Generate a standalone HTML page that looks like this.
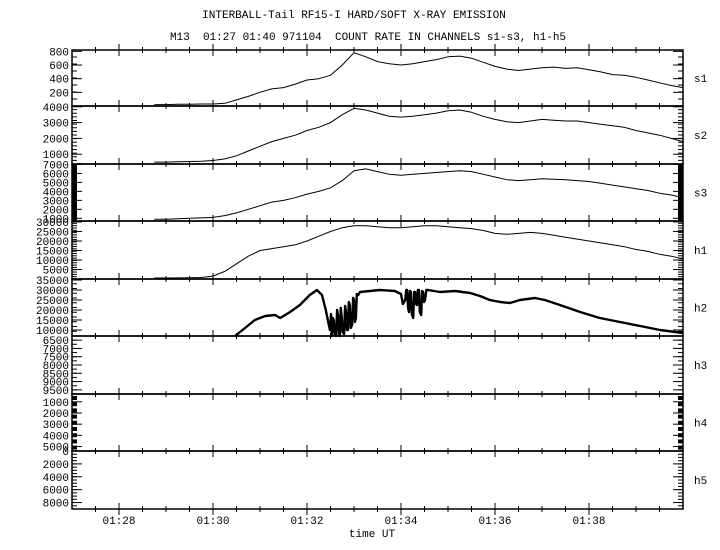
<!DOCTYPE html>
<html><head><meta charset="utf-8"><style>
html,body{margin:0;padding:0;background:#fff;}
svg{display:block;font-family:"Liberation Mono",monospace;}
</style></head><body>
<svg id="chart" width="720" height="550" viewBox="0 0 720 550" xmlns="http://www.w3.org/2000/svg">
<rect width="720" height="550" fill="#fff"/>
<text x="354" y="18" font-size="11" text-anchor="middle">INTERBALL-Tail RF15-I HARD/SOFT X-RAY EMISSION</text>
<text x="368" y="40" font-size="11" text-anchor="middle" style="white-space:pre">M13  01:27 01:40 971104  COUNT RATE IN CHANNELS s1-s3, h1-h5</text>
<text x="372" y="537" font-size="11" text-anchor="middle">time UT</text>
<g id="g"></g>
</svg>
<script>
// shared time axis (minutes after 01:27)
const times = [1.75,2,2.25,2.5,2.75,3,3.25,3.5,3.75,4,4.25,4.5,4.75,5,5.25,5.5,5.75,6,6.25,6.5,6.75,7,7.25,7.5,7.75,8,8.25,8.5,8.75,9,9.25,9.5,9.75,10,10.25,10.5,10.75,11,11.25,11.5,11.75,12,12.25,12.5,12.75,13];
const s1Values = [20,20,25,25,30,30,40,90,140,200,250,270,320,380,400,450,600,780,720,650,620,600,620,650,680,720,730,700,640,580,540,520,540,560,570,550,560,530,500,460,450,420,380,340,300,270];
const s2Values = [500,500,520,540,560,600,700,900,1200,1500,1800,2000,2200,2500,2700,3000,3500,3900,3800,3600,3400,3350,3400,3500,3600,3750,3800,3650,3400,3200,3050,3000,3100,3200,3150,3100,3100,3000,2900,2800,2700,2500,2350,2200,2000,1800];
const s3Values = [900,900,950,1000,1050,1100,1300,1600,2000,2400,2800,3000,3300,3700,4000,4400,5200,6300,6500,6200,5900,5800,5900,6000,6100,6200,6300,6200,5900,5600,5300,5200,5300,5400,5350,5300,5200,5100,4900,4700,4500,4300,4100,3800,3600,3300];
const h1Values = [500,500,600,700,800,1500,4000,8000,12000,15000,16000,17000,18000,20000,22500,25000,27000,28000,28000,27500,27000,27000,27500,28000,28000,27500,27000,26500,25500,24000,23500,24000,24500,24000,23000,22000,21000,20000,19000,18000,17000,15500,14500,13000,12000,10500];
const h2Times = [3.47,3.68,3.89,4.11,4.32,4.43,4.64,4.85,5.06,5.21,5.32,5.40,5.45,5.49,5.51,5.53,5.55,5.57,5.59,5.62,5.64,5.66,5.68,5.70,5.72,5.74,5.76,5.79,5.81,5.83,5.85,5.87,5.89,5.91,5.93,5.96,5.98,6.00,6.02,6.04,6.06,6.09,6.13,6.34,6.55,6.87,7.0,7.04,7.09,7.11,7.13,7.15,7.17,7.19,7.21,7.23,7.26,7.28,7.30,7.32,7.34,7.36,7.38,7.40,7.43,7.45,7.47,7.49,7.51,7.54,7.57,7.83,8.15,8.47,8.68,8.89,9.11,9.32,9.53,9.85,10.06,10.38,10.81,11.23,11.66,12.09,12.51,13.0];
const h2Values = [7000,11000,15000,17000,17500,16000,19000,22500,27500,30000,27500,20000,14000,10000,18000,7000,16000,15000,8000,7000,20000,17500,8000,7000,21000,16000,9000,8000,22000,19000,10000,10000,24000,22500,11000,12500,26000,25000,14000,16000,28000,27500,29000,29500,30000,29500,28000,23000,25000,30000,30000,21000,19000,29500,29000,18000,16000,29000,29000,23000,22500,30000,30000,19000,17500,29500,29000,24000,25000,30000,30000,29000,29500,28500,27000,25000,24000,23500,25000,26000,25000,22500,19000,16000,14000,12000,10000,8500];
const xTickLabels = ["01:28","01:30","01:32","01:34","01:36","01:38"];
const xTickMinutes = [1,3,5,7,9,11];
const s1Ticks = [800,600,400,200];
const s2Ticks = [4000,3000,2000,1000];
const s3Ticks = [7000,6000,5000,4000,3000,2000,1000];
const h1Ticks = [30000,25000,20000,15000,10000,5000];
const h2Ticks = [35000,30000,25000,20000,15000,10000];
const h3Ticks = [6500,7000,7500,8000,8500,9000,9500];
const h4Ticks = [1000,2000,3000,4000,5000];
const h5Ticks = [0,2000,4000,6000,8000];

const NS="http://www.w3.org/2000/svg";
const G=document.getElementById('g');
const X0=72,X1=683;
const xs=m=>X0+m*(X1-X0)/13;
function el(tag,attrs,parent){const e=document.createElementNS(NS,tag);for(const k in attrs)e.setAttribute(k,attrs[k]);(parent||G).appendChild(e);return e;}

const panels=[
 {name:'s1',top:50,bot:106,lo:0,hi:820,ticks:s1Ticks,data:s1Values,t:times,minor:8},
 {name:'s2',top:106,bot:164,lo:380,hi:4050,ticks:s2Ticks,data:s2Values,t:times,minor:16},
 {name:'s3',top:164,bot:221,lo:700,hi:7050,ticks:s3Ticks,data:s3Values,t:times,minor:0,thick:true},
 {name:'h1',top:221,bot:279,lo:0,hi:30500,ticks:h1Ticks,data:h1Values,t:times,minor:25},
 {name:'h2',top:279,bot:336,lo:7000,hi:35500,ticks:h2Ticks,data:h2Values,t:h2Times,minor:12,sw:2.4},
 {name:'h3',top:336,bot:394,lo:6250,hi:9750,rev:true,ticks:h3Ticks,data:null,minor:14},
 {name:'h4',top:394,bot:451,lo:5400,hi:300,ticks:h4Ticks,data:null,minor:0,blocks:true},
 {name:'h5',top:451,bot:509,lo:9000,hi:0,ticks:h5Ticks,data:null,minor:18}
];

panels.forEach(p=>{
  const g=el('g',{});
  
  
  const ys=v=>{let f=(v-p.lo)/(p.hi-p.lo); if(p.rev) f=1-f; return p.bot-f*(p.bot-p.top);};
  const frame=el('rect',{x:X0,y:p.top,width:X1-X0,height:p.bot-p.top,fill:'none',stroke:'#000','stroke-width':1.5},g);
  
  
  for(let i=1;i<26;i++){
    const x=xs(i*0.5); const maj=(i%4===2); const L=maj?6:3;
    el('line',{x1:x,x2:x,y1:p.top-L,y2:p.top+L,stroke:'#000','stroke-width':1},g);
    el('line',{x1:x,x2:x,y1:p.bot-L,y2:p.bot+L,stroke:'#000','stroke-width':1},g);
  }
  for(let i=1;i<p.minor;i++){
    const y=p.top+i*(p.bot-p.top)/p.minor;
    el('line',{x1:X0,x2:X0+5,y1:y,y2:y,stroke:'#000','stroke-width':1},g);
    el('line',{x1:X1-5,x2:X1,y1:y,y2:y,stroke:'#000','stroke-width':1},g);
  }
  if(p.thick){
    el('rect',{x:X0,y:p.top,width:5,height:p.bot-p.top,fill:'#000'},g);
    el('rect',{x:X1-5,y:p.top,width:5,height:p.bot-p.top,fill:'#000'},g);
  }
  if(p.blocks){
    for(let i=0;i<9;i++){ const y=p.top+2+i*6.2; el('rect',{x:X0,y:y,width:5,height:4,fill:'#000'},g); el('rect',{x:X1-5,y:y,width:5,height:4,fill:'#000'},g);}
  }
  p.ticks.forEach(v=>{
    const y=ys(v);
    el('line',{x1:X0,x2:X0+10,y1:y,y2:y,stroke:'#000','stroke-width':1},g);
    el('line',{x1:X1-10,x2:X1,y1:y,y2:y,stroke:'#000','stroke-width':1},g);
    const t=el('text',{x:X0-3,y:y+4,'font-size':11,'text-anchor':'end'},g);
    
    
    t.textContent=v;
  });
  const lab=el('text',{x:694,y:(p.top+p.bot)/2+4,'font-size':11},g);
  
  
  lab.textContent=p.name;
  if(p.data){
    let d='';
    p.data.forEach((v,i)=>{const x=xs(p.t[i]),y=ys(v); d+=(i?'L':'M')+x.toFixed(1)+' '+y.toFixed(1);});
    const path=el('path',{d:d,fill:'none',stroke:'#000','stroke-width':p.sw||1,'stroke-linejoin':'round'},g);
    
    
  }
});
xTickLabels.forEach((s,i)=>{
  const t=el('text',{x:xs(xTickMinutes[i]),y:524,'font-size':11,'text-anchor':'middle'});
  
  
  t.textContent=s;
});
</script>
</body></html>
